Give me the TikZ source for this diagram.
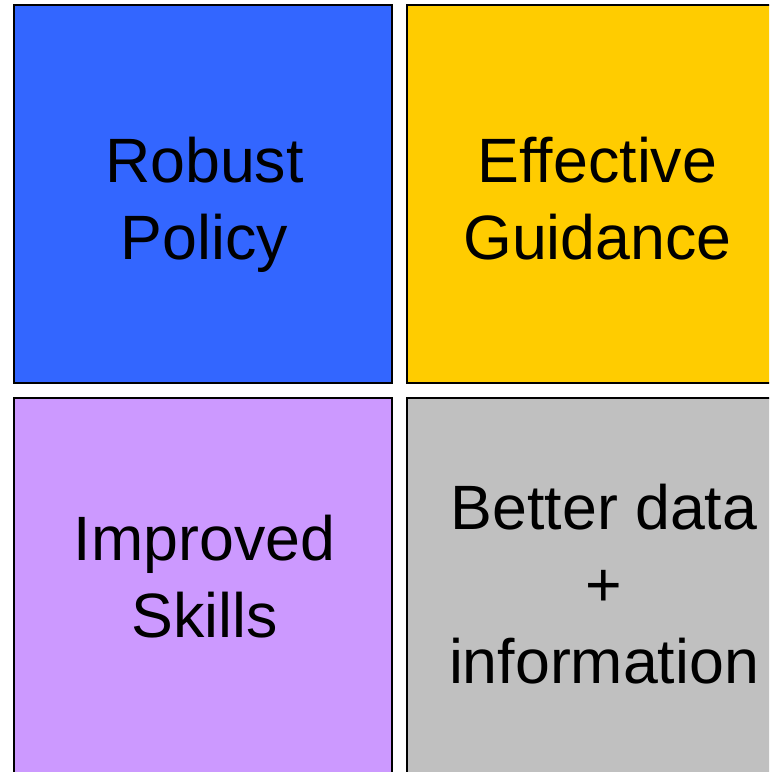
\documentclass[tikz,border=0pt]{standalone}
\usepackage{fontspec}
\setmainfont{Liberation Sans}
\usetikzlibrary{positioning}

\definecolor{policyblue}{HTML}{3366FF}
\definecolor{guideyellow}{HTML}{FFCC00}
\definecolor{skillviolet}{HTML}{CC99FF}
\definecolor{datagrey}{HTML}{C0C0C0}

\tikzset{
  quad/.style={draw=black, line width=1.5pt, anchor=north west, outer sep=0pt,
    inner sep=0pt, minimum width=283.5pt, minimum height=283.5pt},
  caption/.style={align=center, anchor=base, inner sep=0pt,
    font=\fontsize{47}{57.4}\selectfont}
}

\begin{document}
\begin{tikzpicture}[x=0.75pt,y=-0.75pt]
\useasboundingbox (0,0) rectangle (769,772);
\clip (0,0) rectangle (769,772);
% the four quadrants
\node[quad, fill=policyblue]  (policy)   at (14,5)    {};
\node[quad, fill=guideyellow] (guidance) at (407,5)   {};
\node[quad, fill=skillviolet] (skills)   at (14,398)  {};
\node[quad, fill=datagrey]    (data)     at (407,398) {};
% captions (base = last line)
\node[caption] (policytxt)   at (204.5,259) {Robust\\Policy};
\node[caption] (guidancetxt) at (597.5,259) {Effective\\Guidance};
\node[caption] (skillstxt)   at (204.5,637) {Improved\\Skills};
\node[caption] (datatxt)     at (604,683)   {Better data\\+\\information};
\end{tikzpicture}
\end{document}
